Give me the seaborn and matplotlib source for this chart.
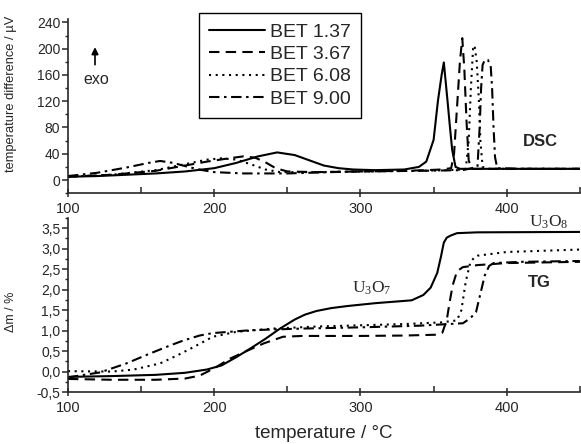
import numpy as np
import pandas as pd
import matplotlib
matplotlib.use("Agg")
import matplotlib.pyplot as plt
from matplotlib.patches import FancyArrowPatch
from matplotlib.ticker import MultipleLocator, FuncFormatter
import seaborn as sns

# --------------------------
# Data (temperature in degC)
# --------------------------
labels = ["BET 1.37", "BET 3.67", "BET 6.08", "BET 9.00"]

# DSC, temperature difference / uV
dsc_t_137 = [100, 120, 140, 160, 180, 200, 215, 230, 243, 255, 265, 275, 285, 295, 310, 330,
             340, 345, 350, 353, 355.5, 357, 359.5, 361, 362.7, 365, 368, 380, 400, 450]
dsc_v_137 = [5, 6, 8, 10, 13, 18, 26, 36, 42, 38, 30, 22, 18, 16, 15, 16,
             20, 28, 61, 121, 160, 179, 121, 85, 46, 20, 17, 17, 17, 17]

dsc_t_367 = [100, 130, 160, 180, 195, 210, 220, 228, 235, 242, 250, 270, 300, 330, 345, 355,
             362, 364, 366, 368, 369.6, 371, 372.5, 374, 376, 380, 400, 450]
dsc_v_367 = [5, 8, 14, 22, 28, 33, 36, 34, 27, 18, 13, 12, 13, 14, 15, 16,
             18, 40, 110, 180, 216, 170, 90, 30, 17, 17, 17, 17]

dsc_t_608 = [100, 130, 160, 180, 195, 205, 215, 225, 235, 245, 270, 300, 340, 360, 368, 372,
             374, 375.5, 377, 378, 379.5, 381, 382, 383.5, 387, 400, 450]
dsc_v_608 = [5, 8, 15, 24, 31, 33, 31, 24, 16, 12, 12, 13, 14, 15, 16, 17,
             60, 140, 200, 205, 180, 120, 60, 20, 17, 17, 17]

dsc_t_900 = [100, 120, 140, 155, 163, 172, 182, 192, 200, 220, 250, 280, 300, 340, 370, 380,
             381.5, 382.5, 383.5, 385, 387, 389, 390, 391, 392, 393.5, 410, 450]
dsc_v_900 = [6, 11, 19, 26, 29, 26, 20, 15, 12, 10, 10, 12, 13, 14, 15, 20,
             80, 140, 175, 183, 183, 175, 140, 80, 35, 18, 17, 17]

# TG, mass change / %
tg_t_137 = [100, 130, 160, 180, 195, 205, 215, 225, 235, 245, 255, 262, 270, 280, 291, 310, 335,
            343, 348, 352.5, 355, 357, 359, 361.6, 366, 380, 450]
tg_m_137 = [-0.13, -0.11, -0.08, -0.03, 0.05, 0.15, 0.35, 0.57, 0.8, 1.05, 1.27, 1.39, 1.48, 1.55, 1.6, 1.67, 1.74,
            1.87, 2.05, 2.41, 2.8, 3.15, 3.27, 3.32, 3.38, 3.4, 3.41]

tg_t_367 = [100, 130, 160, 180, 190, 200, 211, 222, 234, 247, 260, 300, 330, 352, 356, 359,
            361, 363, 366, 370, 380, 400, 450]
tg_m_367 = [-0.18, -0.2, -0.2, -0.17, -0.1, 0.08, 0.32, 0.5, 0.69, 0.85, 0.87, 0.87, 0.88, 0.9, 0.95, 1.26,
            1.7, 2.1, 2.45, 2.55, 2.6, 2.65, 2.68]

tg_t_608 = [100, 130, 145, 163, 175, 186, 199, 215, 240, 270, 300, 330, 355, 366, 369, 372,
            375, 378, 380, 400, 450]
tg_m_608 = [0.01, 0.0, 0.05, 0.2, 0.4, 0.6, 0.85, 0.97, 1.05, 1.1, 1.13, 1.16, 1.2, 1.25, 1.5, 2.2,
            2.65, 2.8, 2.83, 2.92, 2.98]

tg_t_900 = [100, 122, 140, 156, 170, 179, 190, 199, 225, 260, 300, 340, 370, 375, 379, 382,
            385, 388, 391, 410, 450]
tg_m_900 = [-0.14, -0.02, 0.2, 0.44, 0.64, 0.76, 0.88, 0.94, 1.01, 1.05, 1.08, 1.12, 1.18, 1.3, 1.45, 1.9,
            2.35, 2.58, 2.65, 2.68, 2.7]

dsc_series = [(dsc_t_137, dsc_v_137), (dsc_t_367, dsc_v_367), (dsc_t_608, dsc_v_608), (dsc_t_900, dsc_v_900)]
tg_series = [(tg_t_137, tg_m_137), (tg_t_367, tg_m_367), (tg_t_608, tg_m_608), (tg_t_900, tg_m_900)]

styles = ["-", (0, (5, 3)), (0, (1, 2.2)), (0, (5, 2.2, 1.2, 2.2))]

# --------------------------
# Style
# --------------------------
sns.set_style("ticks")
plt.rcParams['font.family'] = ['Liberation Sans', 'DejaVu Sans']
plt.rcParams['axes.linewidth'] = 1.2

fig = plt.figure(figsize=(5.81, 4.44), dpi=100)
ax_dsc = fig.add_axes([0.117, 0.565, 0.881, 0.392])
ax_tg = fig.add_axes([0.117, 0.117, 0.881, 0.392])

for (t, v), ls, lab in zip(dsc_series, styles, labels):
    df = pd.DataFrame({"T": t, "val": v})
    sns.lineplot(data=df, x="T", y="val", ax=ax_dsc, color="black", lw=1.5,
                 linestyle=ls, label=lab, estimator=None, sort=False)

for (t, m), ls in zip(tg_series, styles):
    df = pd.DataFrame({"T": t, "val": m})
    sns.lineplot(data=df, x="T", y="val", ax=ax_tg, color="black", lw=1.5,
                 linestyle=ls, estimator=None, sort=False)

# --------------------------
# Axes formatting
# --------------------------
for ax in (ax_dsc, ax_tg):
    ax.set_xlim(100, 450)
    sns.despine(ax=ax)
    ax.xaxis.set_major_locator(MultipleLocator(100))
    ax.xaxis.set_minor_locator(MultipleLocator(50))
    ax.tick_params(axis='x', which='major', direction='inout', length=6, width=1.1, labelsize=10.5)
    ax.tick_params(axis='x', which='minor', direction='in', length=4, width=1.1)
    ax.tick_params(axis='y', which='major', direction='out', length=4, width=1.1, labelsize=10, pad=1.5)
    ax.tick_params(axis='y', which='minor', direction='out', length=2.5, width=1.0)
    ax.set_xlabel("")

ax_dsc.set_ylim(-20, 245)
ax_dsc.yaxis.set_major_locator(MultipleLocator(40))
ax_dsc.yaxis.set_minor_locator(MultipleLocator(20))
ax_dsc.set_ylabel("temperature difference / µV", fontsize=9.3)
ax_dsc.yaxis.set_label_coords(-0.1, 0.57)

ax_tg.set_ylim(-0.5, 3.75)
ax_tg.yaxis.set_major_locator(MultipleLocator(0.5))
ax_tg.yaxis.set_minor_locator(MultipleLocator(0.25))
ax_tg.yaxis.set_major_formatter(FuncFormatter(lambda v, p: f"{v:.1f}".replace(".", ",")))
ax_tg.set_ylabel("Δm / %", fontsize=9)
ax_tg.yaxis.set_label_coords(-0.1, 0.46)
ax_tg.set_xlabel("temperature / °C", fontsize=13.5, labelpad=7)

leg = ax_dsc.legend(loc="upper left", bbox_to_anchor=(0.256, 1.034), borderaxespad=0,
                    fontsize=14, handlelength=2.9, handletextpad=0.25, labelspacing=0.25,
                    fancybox=False, edgecolor="black", framealpha=1, borderpad=0.5)
leg.get_frame().set_linewidth(1.0)

# annotations
ax_dsc.text(423, 58, "DSC", fontsize=12, fontweight="bold", ha="center", va="center")
ax_tg.text(422, 2.17, "TG", fontsize=12, fontweight="bold", ha="center", va="center")
ax_tg.text(429, 3.65, r"$\mathregular{U_3O_8}$", fontsize=12.5, family="Liberation Serif",
           ha="center", va="center")
ax_tg.text(307.5, 2.04, r"$\mathregular{U_3O_7}$", fontsize=12.5, family="Liberation Serif",
           ha="center", va="center")
fig.text(0.165, 0.82, "exo", fontsize=11.5, ha="center", va="center")
fig.patches.append(FancyArrowPatch(
    (0.1635, 0.848), (0.1635, 0.9), transform=fig.transFigure, arrowstyle="-|>,head_length=4,head_width=2",
    color="black", lw=1.2, figure=fig))

fig.savefig("out.png", dpi=100)
